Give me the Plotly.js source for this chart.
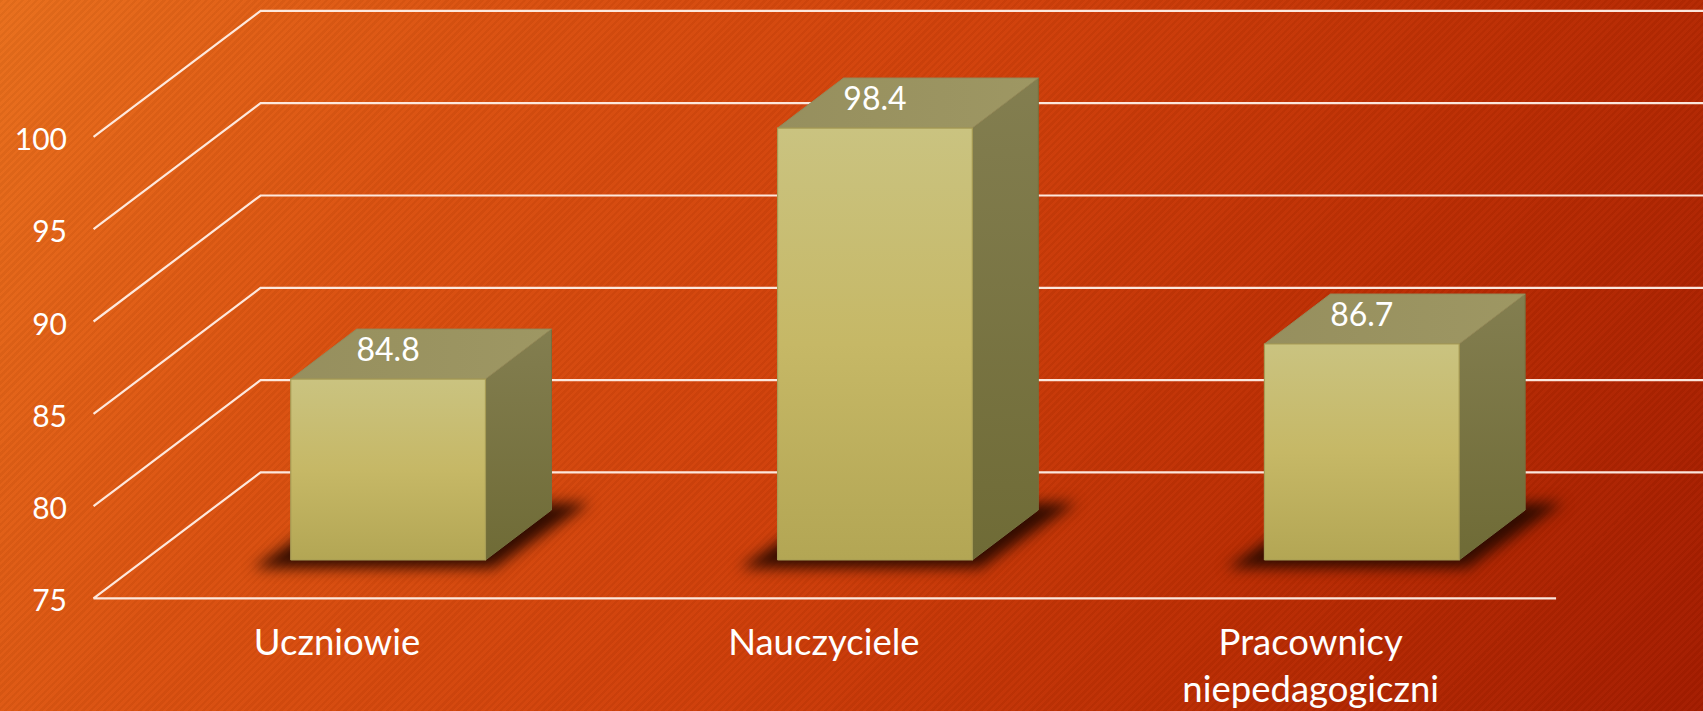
<!DOCTYPE html>
<html>
<head>
<meta charset="utf-8">
<script src="https://cdn.plot.ly/plotly-3.0.1.min.js"></script>
<style>
html,body{margin:0;padding:0;width:1703px;height:711px;overflow:hidden;}
body{background:
  repeating-linear-gradient(135deg,rgba(0,0,0,0.04) 0 2.5px,rgba(255,255,255,0.012) 2.5px 5px),
  linear-gradient(118deg,#E96F1C 0%,#DB5110 24%,#D0400A 50%,#BC2E03 74%,#A41C00 100%);}
#chart{width:1703px;height:711px;}
</style>
</head>
<body>
<div id="chart"></div>
<script>
// Chart values
var categories = ["Uczniowie", "Nauczyciele", "Pracownicy<br>niepedagogiczni"];
var values = [84.8, 98.4, 86.7];
var valueLabels = ["84.8", "98.4", "86.7"];
var tickValues = [75, 80, 85, 90, 95, 100];
var tickLabels = ["75", "80", "85", "90", "95", "100"];

// Pseudo-3D projection, in axis units
var W = 1703, H = 711;
var pxPerCat = 486.85, pxPerVal = 18.46;
var barHalf = 0.2;
var barDepthX = 66 / pxPerCat, barDepthY = 50 / pxPerVal;
var wallDepthX = 167 / pxPerCat, wallDepthY = 126 / pxPerVal;
var labelLift = 26 / pxPerVal;
var floorStart = -0.5, floorEnd = 2.504;
var base = 75;
var shadowFill = "rgba(45,10,0,0.97)";

var traces = [];

// Gridlines + floor, on the front-plane axes (x/y)
tickValues.forEach(function (v, i) {
  var bx = floorStart + wallDepthX;
  var xs = i === 0 ? [floorEnd, floorStart, bx, floorEnd + wallDepthX]
                   : [floorStart, bx, floorEnd + wallDepthX];
  var ys = i === 0 ? [v, v, v + wallDepthY, v + wallDepthY]
                   : [v, v + wallDepthY, v + wallDepthY];
  traces.push({type: "scatter", mode: "lines", x: xs, y: ys, xaxis: "x", yaxis: "y",
    line: {color: "rgba(255,240,232,0.95)", width: 2.2}, hoverinfo: "skip", showlegend: false});
});

// Shadows, on the bar-plane axes (x2/y2)
values.forEach(function (v, i) {
  var L = i - barHalf, R = i + barHalf;
  var up = barDepthY;
  traces.push({type: "scatter", mode: "lines", fill: "toself", xaxis: "x2", yaxis: "y2",
    x: [L - 38 / pxPerCat, R + 8 / pxPerCat, R + barDepthX + 38 / pxPerCat, L + 60 / pxPerCat, L - 38 / pxPerCat],
    y: [base - 8 / pxPerVal, base - 8 / pxPerVal, base + up + 7 / pxPerVal, base + up + 7 / pxPerVal, base - 8 / pxPerVal],
    fillcolor: shadowFill, line: {width: 0}, hoverinfo: "skip", showlegend: false});
});

// Bars: side, top, front
values.forEach(function (v, i) {
  var L = i - barHalf, R = i + barHalf, dx = barDepthX, dy = barDepthY;
  traces.push({type: "scatter", mode: "lines", fill: "toself", xaxis: "x2", yaxis: "y2",
    x: [R, R + dx, R + dx, R, R], y: [base, base + dy, v + dy, v, base],
    line: {color: "#75713f", width: 1},
    fillgradient: {type: "vertical", colorscale: [[0, "#6F6B36"], [1, "#837E50"]]},
    hoverinfo: "skip", showlegend: false});
  traces.push({type: "scatter", mode: "lines", fill: "toself", xaxis: "x2", yaxis: "y2",
    x: [L, L + dx, R + dx, R, L], y: [v, v + dy, v + dy, v, v],
    line: {color: "#92895a", width: 1},
    fillgradient: {type: "horizontal", colorscale: [[0, "#968F5E"], [1, "#9E9763"]]},
    hoverinfo: "skip", showlegend: false});
  traces.push({type: "scatter", mode: "lines", fill: "toself", name: categories[i], xaxis: "x2", yaxis: "y2",
    x: [L, R, R, L, L], y: [base, base, v, v, base],
    line: {color: "#a79c55", width: 1.2},
    fillgradient: {type: "vertical", colorscale: [[0, "#B3A654"], [0.5, "#C6B866"], [1, "#CAC380"]]},
    hovertemplate: "%{text}<extra></extra>", text: [valueLabels[i]], showlegend: false});
});

// Value labels
traces.push({type: "scatter", mode: "text", xaxis: "x2", yaxis: "y2",
  x: values.map(function (v, i) { return i; }),
  y: values.map(function (v) { return v + labelLift; }),
  text: valueLabels, textposition: "middle center", cliponaxis: false,
  textfont: {family: "Lato, 'Open Sans', sans-serif", size: 32, color: "#ffffff"},
  hoverinfo: "skip", showlegend: false});

var layout = {
  width: W, height: H,
  margin: {l: 0, r: 0, t: 0, b: 0, pad: 0},
  paper_bgcolor: "rgba(0,0,0,0)", plot_bgcolor: "rgba(0,0,0,0)",
  showlegend: false,
  // front plane: carries the labelled axes
  xaxis: {range: [-337 / pxPerCat, (W - 337) / pxPerCat], domain: [0, 1], anchor: "free", position: (H - 617) / H,
    side: "bottom", tickmode: "array", tickvals: [0, 1, 2], ticktext: categories,
    showgrid: false, zeroline: false, showline: false, ticks: "", fixedrange: true,
    tickfont: {family: "Lato, 'Open Sans', sans-serif", size: 36.5, color: "#ffffff"}},
  yaxis: {range: [base - (H - 598.4) / pxPerVal, base + 598.4 / pxPerVal], domain: [0, 1], anchor: "free", position: 67 / W,
    side: "left", tickmode: "array", tickvals: tickValues, ticktext: tickLabels,
    showgrid: false, zeroline: false, showline: false, ticks: "", fixedrange: true,
    tickfont: {family: "Lato, 'Open Sans', sans-serif", size: 30, color: "#ffffff"}},
  // bar plane
  xaxis2: {overlaying: "x", range: [-388.1 / pxPerCat, (W - 388.1) / pxPerCat], visible: false, fixedrange: true},
  yaxis2: {overlaying: "y", range: [base - (H - 560) / pxPerVal, base + 560 / pxPerVal], visible: false, fixedrange: true}
};

Plotly.newPlot("chart", traces, layout, {displayModeBar: false}).then(function () {
  document.querySelectorAll("#chart .scatterlayer .trace").forEach(function (g) {
    var d = g.__data__;
    if (d && d[0] && d[0].trace && d[0].trace.fillcolor === shadowFill) {
      g.style.filter = "blur(7px)";
    }
  });
  document.querySelectorAll("#chart .ytick text").forEach(function (t) {
    t.setAttribute("y", (parseFloat(t.getAttribute("y")) || 0) + 2.5);
  });
});
</script>
</body>
</html>
